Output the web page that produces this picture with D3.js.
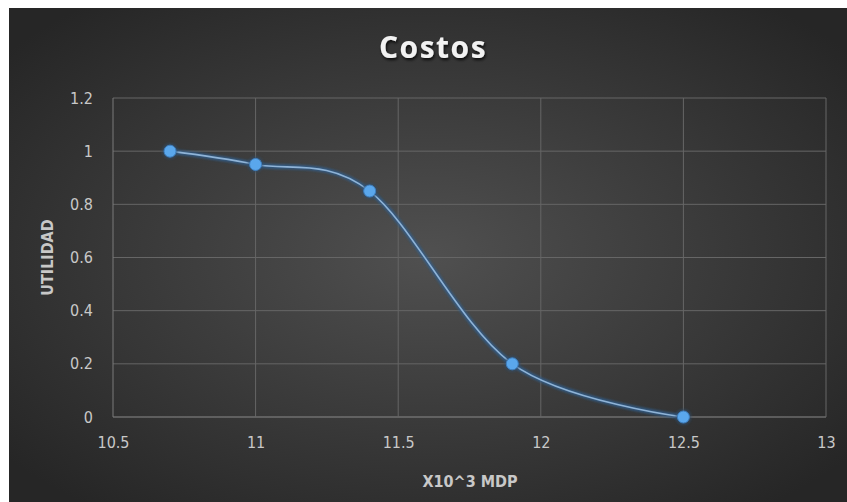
<!DOCTYPE html>
<html>
<head>
<meta charset="utf-8">
<script src="https://cdn.jsdelivr.net/npm/d3@7"></script>
<style>
  body { margin: 0; background: #fff; }
  svg { display: block; }
</style>
</head>
<body>
<svg id="chart"></svg>
<script>
const width = 847, height = 502;

// data
const costos = [10.7, 11, 11.4, 11.9, 12.5];
const utilidad = [1, 0.95, 0.85, 0.2, 0];
const xTicks = [10.5, 11, 11.5, 12, 12.5, 13];
const yTicks = [0, 0.2, 0.4, 0.6, 0.8, 1, 1.2];

const margin = {left: 113, right: 21, top: 98, bottom: 85};
const labelFont = "'DejaVu Sans Condensed', 'Liberation Sans Narrow', sans-serif";

const svg = d3.select("#chart").attr("width", width).attr("height", height);

const defs = svg.append("defs");
const grad = defs.append("radialGradient")
    .attr("id", "bg")
    .attr("cx", "50%").attr("cy", "50%").attr("r", "65%");
grad.append("stop").attr("offset", "0%").attr("stop-color", "#505050");
grad.append("stop").attr("offset", "100%").attr("stop-color", "#262626");

const shadow = defs.append("filter").attr("id", "shadow")
    .attr("x", "-20%").attr("y", "-20%").attr("width", "140%").attr("height", "140%");
shadow.append("feDropShadow")
    .attr("dx", 1).attr("dy", 2).attr("stdDeviation", 1.5)
    .attr("flood-color", "#000").attr("flood-opacity", 0.8);

const glow = defs.append("filter").attr("id", "glow")
    .attr("x", "-10%").attr("y", "-10%").attr("width", "120%").attr("height", "120%");
glow.append("feGaussianBlur").attr("stdDeviation", 1.2);

svg.append("rect")
    .attr("x", 9).attr("y", 8)
    .attr("width", width - 9).attr("height", height - 8)
    .attr("fill", "url(#bg)");

const x = d3.scaleLinear().domain([10.5, 13]).range([margin.left, width - margin.right]);
const y = d3.scaleLinear().domain([0, 1.2]).range([height - margin.bottom, margin.top]);

// gridlines
svg.append("g")
    .selectAll("line")
    .data(yTicks)
    .join("line")
    .attr("x1", x(10.5)).attr("x2", x(13))
    .attr("y1", d => y(d)).attr("y2", d => y(d))
    .attr("stroke", d => d === 0 ? "#8a8a8a" : "#666")
    .attr("stroke-width", 1);

svg.append("g")
    .selectAll("line")
    .data(xTicks)
    .join("line")
    .attr("x1", d => x(d)).attr("x2", d => x(d))
    .attr("y1", y(0)).attr("y2", y(1.2))
    .attr("stroke", d => d === 10.5 ? "#7a7a7a" : "#666")
    .attr("stroke-width", 1);

// axes via d3 axis generators, then restyled
const yAxis = svg.append("g")
    .attr("transform", `translate(${x(10.5)},0)`)
    .call(d3.axisLeft(y).tickValues(yTicks).tickSize(0).tickPadding(20).tickFormat(d3.format("~g")));
const xAxis = svg.append("g")
    .attr("transform", `translate(0,${y(0)})`)
    .call(d3.axisBottom(x).tickValues(xTicks).tickSize(0).tickPadding(20).tickFormat(d3.format("~g")));

[yAxis, xAxis].forEach(a => {
    a.select(".domain").remove();
    a.selectAll("text")
        .attr("fill", "#c8c8c8")
        .style("font-family", labelFont)
        .style("font-size", "16px");
});

// titles
svg.append("text")
    .attr("x", 433).attr("y", 58)
    .attr("text-anchor", "middle")
    .attr("fill", "#f2f2f2")
    .attr("filter", "url(#shadow)")
    .style("font-family", "'Open Sans', sans-serif")
    .style("font-weight", "bold")
    .style("font-size", "30px")
    .style("letter-spacing", "1.5px")
    .text("Costos");

svg.append("text")
    .attr("x", 470).attr("y", 487)
    .attr("text-anchor", "middle")
    .attr("fill", "#c8c8c8")
    .style("font-family", labelFont)
    .style("font-weight", "bold")
    .style("font-size", "16px")
    .text("X10^3 MDP");

svg.append("text")
    .attr("transform", `translate(53,${y(0.6)}) rotate(-90)`)
    .attr("text-anchor", "middle")
    .attr("fill", "#c8c8c8")
    .style("font-family", labelFont)
    .style("font-weight", "bold")
    .style("font-size", "16px")
    .text("UTILIDAD");

// smoothed series line
const pts = costos.map((c, i) => [c, utilidad[i]]);
const line = d3.line()
    .x(d => x(d[0]))
    .y(d => y(d[1]))
    .curve(d3.curveCardinal.tension(0));

svg.append("path")
    .datum(pts)
    .attr("d", line)
    .attr("fill", "none")
    .attr("stroke", "#2e5f8f")
    .attr("stroke-width", 5)
    .attr("stroke-opacity", 0.8)
    .attr("filter", "url(#glow)");

svg.append("path")
    .datum(pts)
    .attr("d", line)
    .attr("fill", "none")
    .attr("stroke", "#8fb3d6")
    .attr("stroke-width", 1.6);

// markers
svg.append("g")
    .selectAll("circle")
    .data(pts)
    .join("circle")
    .attr("cx", d => x(d[0]))
    .attr("cy", d => y(d[1]))
    .attr("r", 8)
    .attr("fill", "#2e4f70")
    .attr("opacity", 0.6)
    .attr("filter", "url(#glow)");

svg.append("g")
    .selectAll("circle")
    .data(pts)
    .join("circle")
    .attr("cx", d => x(d[0]))
    .attr("cy", d => y(d[1]))
    .attr("r", 6)
    .attr("fill", "#5aa7ec")
    .attr("stroke", "#3f7fbf")
    .attr("stroke-width", 1);
</script>
</body>
</html>
